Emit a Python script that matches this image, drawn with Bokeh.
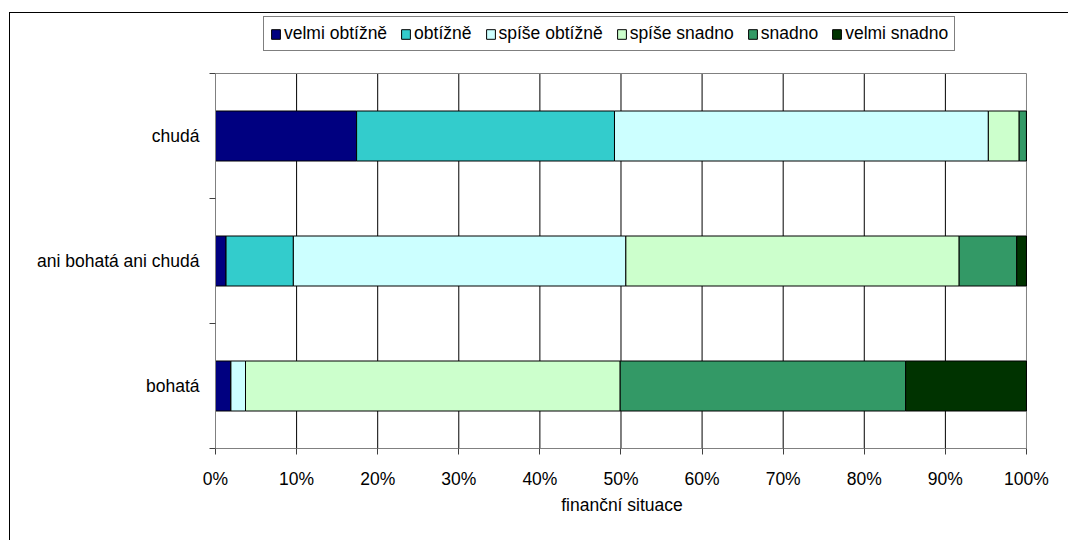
from bokeh.plotting import figure
from bokeh.models import ColumnDataSource, FixedTicker, PrintfTickFormatter, Legend
from bokeh.embed import file_html
from bokeh.resources import INLINE

# ---- data (percent) ----
categories = ["bohatá", "ani bohatá ani chudá", "chudá"]
series = ["velmi obtížně", "obtížně", "spíše obtížně", "spíše snadno", "snadno", "velmi snadno"]
velmi_obtizne = [1.9, 1.3, 17.4]
obtizne = [0.0, 8.3, 31.8]
spise_obtizne = [1.8, 41.0, 46.1]
spise_snadno = [46.2, 41.1, 3.8]
snadno = [35.2, 7.1, 0.9]
velmi_snadno = [14.9, 1.2, 0.0]
x_ticks = [0, 10, 20, 30, 40, 50, 60, 70, 80, 90, 100]
colors = ["#000080", "#33CCCC", "#CCFFFF", "#CCFFCC", "#339966", "#003300"]

FONT = "Liberation Sans"
FS = "17.5px"

n = len(categories)
xmax = x_ticks[-1]
keys = ["s0", "s1", "s2", "s3", "s4", "s5"]
ypos = [i + 0.5 for i in range(n)]
source = ColumnDataSource(dict(
    y=ypos,
    s0=velmi_obtizne, s1=obtizne, s2=spise_obtizne,
    s3=spise_snadno, s4=snadno, s5=velmi_snadno,
))

# frame extends above the category area to host the legend (legends are clipped to the frame)
p = figure(width=1068, height=540, output_backend="svg", toolbar_location=None,
           x_range=(0, xmax * 1.0025), y_range=(0, n + 0.464),
           min_border_left=215, min_border_right=40, min_border_top=15, min_border_bottom=92)
# outer chart-area frame: CSS background lines behind a transparent border area
p.border_fill_alpha = 0.0
p.background_fill_color = "white"
p.outline_line_color = None
p.styles = {
    "background-color": "white",
    "background-image": "linear-gradient(black, black), linear-gradient(black, black)",
    "background-size": "100% 1px, 1px 100%",
    "background-position": "9px 12px, 9px 12px",
    "background-repeat": "no-repeat",
}

# vertical gridlines limited to the category area
inner = x_ticks[1:-1]
p.segment(x0=inner, y0=[0] * len(inner), x1=inner, y1=[n] * len(inner),
          line_color="black", line_width=1)
# plot-area border (gray): top and right edges
p.multi_line(xs=[[0, xmax, xmax]], ys=[[n, n, 0]], line_color="#808080", line_width=1)

renderers = p.hbar_stack(keys, y="y", height=0.4, color=colors, source=source,
                         line_color="black", line_width=1)

p.xgrid.grid_line_color = None
p.ygrid.grid_line_color = None

# x axis
p.xaxis.ticker = FixedTicker(ticks=x_ticks)
p.xaxis.bounds = (0, xmax)
p.xaxis.formatter = PrintfTickFormatter(format="%d%%")
p.xaxis.axis_label = "finanční situace"
p.xaxis.axis_line_color = "#808080"
p.xaxis.major_tick_line_color = "#404040"
p.xaxis.major_tick_out = 6
p.xaxis.major_tick_in = 0
p.xaxis.minor_tick_line_color = None
p.xaxis.major_label_standoff = 14
p.xaxis.axis_label_standoff = 3
p.xaxis.major_label_text_font = FONT
p.xaxis.major_label_text_font_size = FS
p.xaxis.major_label_text_color = "black"
p.xaxis.axis_label_text_font = FONT
p.xaxis.axis_label_text_font_size = FS
p.xaxis.axis_label_text_font_style = "normal"
p.xaxis.axis_label_text_color = "black"

# y axis
p.yaxis.ticker = FixedTicker(ticks=ypos, minor_ticks=list(range(n + 1)))
p.yaxis.bounds = (0, n)
p.yaxis.major_label_overrides = {y: c for y, c in zip(ypos, categories)}
p.yaxis.axis_line_color = "#808080"
p.yaxis.major_tick_out = 0
p.yaxis.major_tick_in = 0
p.yaxis.minor_tick_line_color = "#404040"
p.yaxis.minor_tick_out = 6
p.yaxis.minor_tick_in = 0
p.yaxis.major_label_standoff = 10
p.yaxis.major_label_text_font = FONT
p.yaxis.major_label_text_font_size = FS
p.yaxis.major_label_text_color = "black"

# legend
legend = Legend(items=[(s, [r]) for s, r in zip(series, renderers)],
                orientation="horizontal", location=(48, 397),
                border_line_color="black", border_line_width=1,
                background_fill_color="white", background_fill_alpha=1.0,
                padding=6, margin=0,
                spacing=13, label_standoff=3, glyph_width=11, glyph_height=12,
                label_height=18, label_text_font=FONT, label_text_font_size=FS,
                label_text_color="black")
p.add_layout(legend, "center")

open("out.html", "w").write(file_html(p, INLINE))
